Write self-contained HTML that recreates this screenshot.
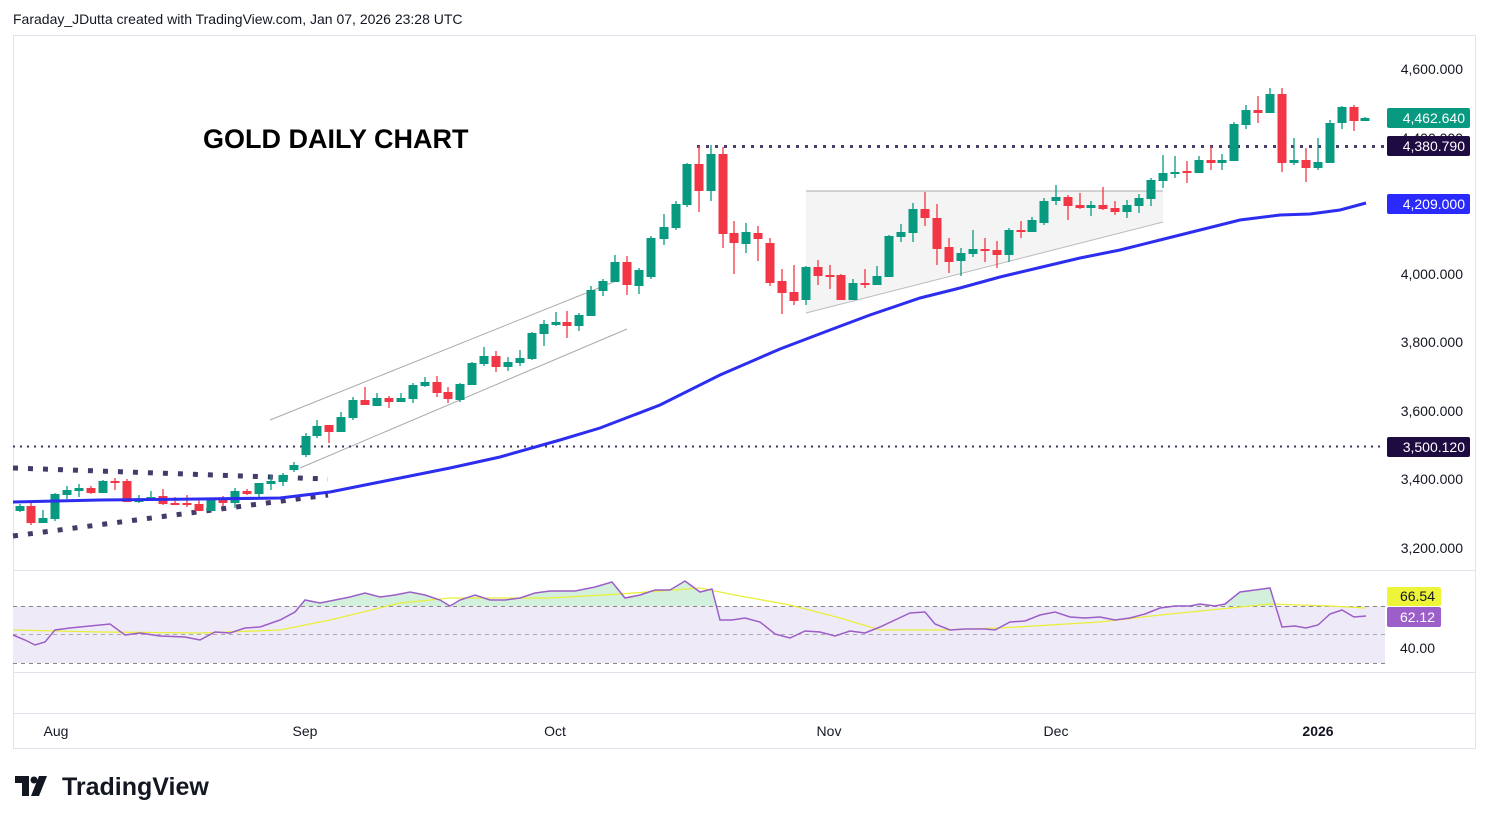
<!DOCTYPE html>
<html><head><meta charset="utf-8"><style>
body{margin:0;background:#fff;width:1489px;height:824px;overflow:hidden;font-family:"Liberation Sans",sans-serif}
</style></head><body>
<svg id="s" width="1489" height="824" xmlns="http://www.w3.org/2000/svg" font-family="Liberation Sans, sans-serif">
<rect width="1489" height="824" fill="#fff"/>
<text x="13" y="24" font-size="14" fill="#131722">Faraday_JDutta created with TradingView.com, Jan 07, 2026 23:28 UTC</text>
<rect x="13.5" y="35.5" width="1462" height="713" fill="none" stroke="#e0e3eb"/>
<line x1="13" y1="570.5" x2="1476" y2="570.5" stroke="#e0e3eb"/>
<line x1="13" y1="672.5" x2="1476" y2="672.5" stroke="#e0e3eb"/>
<line x1="13" y1="713.5" x2="1476" y2="713.5" stroke="#e0e3eb"/>
<!-- triangle -->
<polygon points="806,191 1163,191 1163,222 806,313" fill="#f4f4f4"/>
<line x1="806" y1="191" x2="1163" y2="191" stroke="#aaa" stroke-width="1"/>
<line x1="806" y1="313" x2="1163" y2="222" stroke="#bbb" stroke-width="1"/>
<line x1="270" y1="420" x2="616" y2="281" stroke="#aaa" stroke-width="1"/>
<line x1="300" y1="468" x2="627" y2="329" stroke="#aaa" stroke-width="1"/>
<!-- dotted levels -->
<line x1="697" y1="146.5" x2="1385" y2="146.5" stroke="#4a3d6b" stroke-width="3" stroke-dasharray="3,6"/>
<line x1="13" y1="446.5" x2="1385" y2="446.5" stroke="#3d3560" stroke-width="2" stroke-dasharray="2,5"/>
<line x1="13" y1="468" x2="328" y2="479" stroke="#463a6a" stroke-width="5" stroke-dasharray="5,10"/>
<line x1="13" y1="536" x2="328" y2="495" stroke="#463a6a" stroke-width="5" stroke-dasharray="5,10"/>
<g id="c"></g>
<polyline fill="none" stroke="#2d2df0" stroke-width="3" points="13,502 100,500 200,499 280,498 330,492 380,482 450,468 500,457 560,440 600,428 660,405 720,375 780,349 830,330 870,315 920,298 960,288 1000,277 1080,258 1120,250 1160,240 1200,230 1240,220 1280,215 1310,214 1340,210 1366,203"/>
<text x="203" y="148" font-size="27" font-weight="bold" fill="#000">GOLD DAILY CHART</text>
<!-- RSI -->
<rect x="13" y="606" width="1372" height="57" fill="#efeaf7"/>
<line x1="13" y1="606.5" x2="1385" y2="606.5" stroke="#888" stroke-dasharray="4,4"/>
<line x1="13" y1="634.5" x2="1385" y2="634.5" stroke="#aaa" stroke-dasharray="4,4"/>
<line x1="13" y1="663.5" x2="1385" y2="663.5" stroke="#888" stroke-dasharray="4,4"/>
<clipPath id="ab"><rect x="0" y="0" width="1489" height="606"/></clipPath>
<polygon id="rf" clip-path="url(#ab)" fill="#c8ecd4" opacity="0.8"/>
<polyline id="ym" fill="none" stroke="#e8ef3a" stroke-width="1.3"/>
<polyline id="rl" fill="none" stroke="#9c5ec8" stroke-width="1.5"/>
<!-- axis labels -->
<g font-size="14" fill="#131722" text-anchor="end">
<text x="1463" y="74">4,600.000</text>
<text x="1463" y="279">4,000.000</text>
<text x="1463" y="347">3,800.000</text>
<text x="1463" y="416">3,600.000</text>
<text x="1463" y="484">3,400.000</text>
<text x="1463" y="553">3,200.000</text>
<text x="1463" y="143">4,400.000</text>
<text x="1435" y="653">40.00</text>
</g>
<rect x="1387" y="108" width="83" height="20" rx="2" fill="#089981"/>
<rect x="1387" y="136" width="83" height="20" rx="2" fill="#1e0b42"/>
<rect x="1387" y="194" width="83" height="20" rx="2" fill="#2a2aff"/>
<rect x="1387" y="437" width="83" height="20" rx="2" fill="#1e0b42"/>
<rect x="1387" y="587" width="54" height="19" rx="2" fill="#eef538"/>
<rect x="1387" y="607" width="54" height="20" rx="2" fill="#9c5ec8"/>
<g font-size="14" fill="#fff" text-anchor="end">
<text x="1465" y="123">4,462.640</text>
<text x="1465" y="151">4,380.790</text>
<text x="1465" y="209">4,209.000</text>
<text x="1465" y="452">3,500.120</text>
<text x="1435" y="622">62.12</text>
</g>
<text x="1435" y="601" font-size="14" fill="#131722" text-anchor="end">66.54</text>
<g font-size="14" fill="#131722" text-anchor="middle">
<text x="56" y="736">Aug</text><text x="305" y="736">Sep</text><text x="555" y="736">Oct</text><text x="829" y="736">Nov</text><text x="1056" y="736">Dec</text><text x="1318" y="736" font-weight="bold">2026</text>
</g>
<g fill="#131722">
<path d="M15,776 h14 v20 h-7 v-13 h-7z"/>
<circle cx="34" cy="780" r="3.5"/>
<path d="M39,776 h8 l-8,20 h-8z"/>
</g>
<text x="62" y="795" font-size="25" font-weight="bold" fill="#131722">TradingView</text>
</svg>
<script>
var d=[
[20,506,511,504,512,1],[31,506,523,503,525,0],[43,523,518,510,523,1],[55,519,494,493,521,1],[67,495,490,486,499,1],[79,491,488,484,497,1],[91,488,493,486,494,0],[103,493,481,480,493,1],[115,481,481,478,490,0],[127,481,502,479,502,0],[139,502,499,495,503,1],[151,499,497,491,500,1],[163,496,504,489,505,0],[175,503,503,497,504,0],[187,503,503,495,507,0],[199,504,511,500,511,0],[211,511,498,498,511,1],[223,498,503,496,506,0],[235,503,491,488,508,1],[247,491,494,489,495,0],[259,494,483,483,497,1],[271,484,481,475,490,1],[283,482,475,473,486,1],
[294,470,465,462,472,1],[306,455,436,433,457,1],[317,436,426,420,438,1],[329,425,432,425,443,0],[341,432,417,412,432,1],[353,418,400,397,420,1],[365,400,405,387,405,0],[377,406,398,393,406,1],[389,398,402,396,408,0],[401,402,398,393,402,1],[413,399,385,383,403,1],[425,386,382,377,387,1],[437,382,393,376,397,0],[448,392,399,387,403,0],[460,400,384,383,402,1],[472,385,363,362,385,1],[484,364,356,347,366,1],[496,356,367,351,372,0],[508,367,362,357,371,1],[520,363,358,350,366,1],[532,359,333,332,360,1],[544,334,324,320,346,1],[556,325,322,312,326,1],[567,322,326,311,338,0],[579,326,315,313,331,1],[591,316,290,286,316,1],[603,291,281,279,296,1],[615,282,262,255,282,1],[627,262,285,256,295,0],[639,286,270,268,294,1],[651,277,238,236,279,1],
[664,239,227,214,245,1],[676,228,204,201,230,1],[687,205,164,163,207,1],[699,164,191,146,212,0],[711,191,154,145,201,1],[723,154,234,147,248,0],[734,233,243,221,274,0],[746,244,232,223,253,1],[758,233,239,226,261,0],[770,243,283,238,286,0],[782,281,293,269,314,0],[794,292,301,265,305,0],[806,300,267,266,305,1],[818,267,276,260,285,0],[830,275,275,265,289,0],[841,275,300,274,300,0],[853,300,283,279,300,1],[865,283,285,269,288,0],[877,285,276,266,285,1],[889,277,236,235,277,1],[901,237,232,224,242,1],[913,233,209,203,242,1],[925,209,218,192,226,0],[937,218,249,204,265,0],[949,247,262,238,273,0],[961,261,253,248,276,1],[973,254,249,230,257,1],[985,249,249,238,262,0],[997,250,255,241,268,0],[1009,255,230,228,262,1],[1021,230,232,221,238,0],[1032,232,220,217,232,1],[1044,223,201,198,225,1],[1056,201,197,185,205,1],[1068,197,206,195,220,0],[1080,205,208,193,209,0],[1091,208,205,201,216,1],[1103,205,209,187,210,0],[1115,208,212,201,215,0],[1127,212,205,200,218,1],[1139,206,198,194,213,1],[1151,199,180,178,206,1],[1163,181,173,155,188,1],[1175,173,172,156,178,1],
[1187,171,173,161,183,0],[1199,173,160,156,173,1],[1211,160,163,146,170,0],[1222,163,160,154,170,1],[1234,161,124,122,161,1],[1246,125,110,105,129,1],[1258,110,113,96,123,0],[1270,113,94,88,113,1],[1282,94,163,88,172,0],[1294,163,160,138,165,1],[1306,160,168,148,182,0],[1318,168,162,138,170,1],[1330,163,123,120,163,1],[1342,123,107,106,129,1],[1354,107,121,105,131,0],[1365,121,118,117,121,1]];
var h='';d.forEach(function(c){var col=c[5]?'#089981':'#f23645';var t=Math.min(c[1],c[2]),b=Math.max(c[1],c[2]);if(b-t<2)b=t+2;
h+='<line x1="'+c[0]+'" y1="'+c[3]+'" x2="'+c[0]+'" y2="'+c[4]+'" stroke="'+col+'" stroke-width="1.3"/><rect x="'+(c[0]-4.5)+'" y="'+t+'" width="9" height="'+(b-t)+'" fill="'+col+'"/>';});
document.getElementById('c').innerHTML=h;
var r="13,635 25,640 35,645 45,642 55,630 70,628 90,626 110,624 125,635 140,633 160,636 185,637 200,640 215,632 230,633 245,628 260,627 280,620 295,612 305,600 320,603 335,600 350,597 365,593 380,597 395,595 410,592 425,595 440,600 450,606 460,600 475,595 490,600 505,600 520,598 535,593 550,591 575,591 595,587 612,582 625,598 640,595 655,590 670,590 685,581 700,592 712,589 720,620 732,620 745,618 760,622 775,634 790,638 805,631 820,632 835,636 850,631 865,633 880,627 895,620 910,613 925,612 935,624 950,630 965,629 985,629 995,630 1010,622 1025,621 1040,615 1055,612 1070,617 1085,618 1100,617 1115,620 1130,618 1145,614 1160,608 1175,606 1190,606 1200,604 1215,606 1225,604 1240,592 1255,590 1270,588 1282,627 1295,626 1306,628 1318,625 1330,614 1342,610 1354,617 1366,616";
document.getElementById('rl').setAttribute('points',r);
document.getElementById('rf').setAttribute('points','13,606 '+r+' 1366,606');
document.getElementById('ym').setAttribute('points',"13,630 100,632 200,633 280,630 330,620 400,603 450,598 550,598 620,594 700,588 740,596 790,605 840,618 880,630 940,630 1000,628 1100,622 1160,615 1220,609 1270,604 1330,606 1366,608");
</script>
</body></html>
